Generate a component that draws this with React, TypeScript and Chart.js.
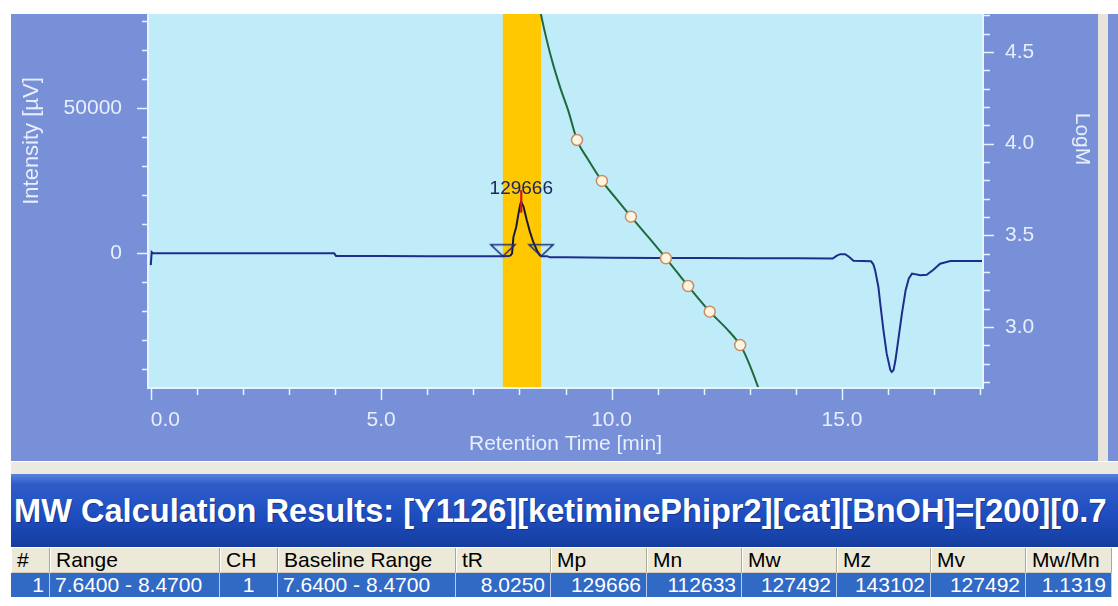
import React, { useEffect, useRef } from "react";
import { Chart, registerables } from "chart.js";

Chart.register(...registerables);

const FONT = "'Liberation Sans', Arial, sans-serif";

// Detector trace: retention time [min] and intensity [µV]
const retentionTime = [
  0.0, 0.02, 0.05, 1.0, 2.0, 3.0, 3.98, 4.02, 5.0, 6.0, 7.0, 7.64, 7.8, 7.84, 7.87, 7.93, 7.98,
  8.02, 8.04, 8.09, 8.16, 8.23, 8.3, 8.38, 8.44, 8.47, 8.6, 8.66, 9.0, 10.0, 11.0, 12.0, 13.0,
  14.0, 14.8, 14.88, 14.96, 15.07, 15.15, 15.25, 15.63, 15.68, 15.72, 15.79, 15.83, 15.9, 15.97,
  16.05, 16.08, 16.12, 16.16, 16.23, 16.3, 16.38, 16.45, 16.52, 16.7, 16.84, 16.99, 17.13, 17.35,
  18.06,
];
const intensity = [
  -4100, 400, 0, 0, 0, 0, 0, -900, -950, -1000, -1000, -1000, -900, 0, 5600, 9100, 13700,
  17100, 17700, 16000, 11400, 7300, 3900, 1000, -600, -1000, -1000, -1400, -1400, -1500, -1600,
  -1650, -1700, -1750, -1800, -900, -300, -300, -1200, -2600, -2700, -3800, -5900, -11600,
  -17300, -26600, -34600, -40300, -40900, -40200, -36900, -28900, -20800, -12800, -8700, -7000,
  -7600, -7400, -5600, -3600, -2650, -2650,
];

// Integration window and baseline points of the peak
const integrationWindow = [7.64, 8.47];
const baselineMarkTime = [7.64, 8.47];
const baselineMarkSignal = [-1000, -1000];

// Peak top
const peakTopTime = [8.04];
const peakTopSignal = [17700];
const peakTopMarker = [14000, 21800];
const peakMp = [129666];

// Calibration curve (LogM vs retention time)
const calibTime = [
  8.465, 8.56, 8.7, 8.88, 9.06, 9.25, 9.5, 9.79, 10.1, 10.42, 10.8, 11.18, 11.66, 12.13, 12.5,
  12.79, 12.9, 13.05, 13.19,
];
const calibLogM = [
  4.707, 4.6, 4.46, 4.31, 4.18, 4.02, 3.91, 3.797, 3.7, 3.602, 3.49, 3.375, 3.224, 3.084, 2.99,
  2.902, 2.85, 2.76, 2.666,
];

// Calibration standards
const standardTime = [9.25, 9.79, 10.42, 11.18, 11.66, 12.13, 12.79];
const standardLogM = [4.02, 3.797, 3.602, 3.375, 3.224, 3.084, 2.902];

// Axes
const timeTicks = [0, 1, 2, 3, 4, 5, 6, 7, 8, 9, 10, 11, 12, 13, 14, 15, 16, 17, 18];
const timeLabelValues = [0, 5, 10, 15];
const timeLabels = ["0.0", "5.0", "10.0", "15.0"];
const intensityTicks = [-40000, -30000, -20000, -10000, 0, 10000, 20000, 30000, 40000, 50000, 60000, 70000, 80000];
const intensityLabelValues = [0, 50000];
const intensityLabels = ["0", "50000"];
const logMTicks = [2.7, 2.8, 2.9, 3.0, 3.1, 3.2, 3.3, 3.4, 3.5, 3.6, 3.7, 3.8, 3.9, 4.0, 4.1, 4.2, 4.3, 4.4, 4.5, 4.6, 4.7];
const logMLabelValues = [3.0, 3.5, 4.0, 4.5];
const logMLabels = ["3.0", "3.5", "4.0", "4.5"];

// Results table
const tableHeaders = ["#", "Range", "CH", "Baseline Range", "tR", "Mp", "Mn", "Mw", "Mz", "Mv", "Mw/Mn"];
const tableRow = ["1", "7.6400 - 8.4700", "1", "7.6400 - 8.4700", "8.0250", "129666", "112633", "127492", "143102", "127492", "1.1319"];

const resultsTitle = "MW Calculation Results: [Y1126][ketiminePhipr2][cat][BnOH]=[200][0.7";

const PANEL = "#7890D8";
const PLOT_BG = "#C0ECFA";
const AXIS = "#E6F4FF";
const LABEL = "#E8EEFC";

const pick = (values: number[], labels: string[], v: number) => {
  const i = values.findIndex((w) => Math.abs(w - v) < 1e-6);
  return i >= 0 ? labels[i] : "";
};

const zip = (xs: number[], ys: number[]) => xs.map((x, i) => ({ x, y: ys[i] }));

function makeTriangle(): HTMLCanvasElement {
  const c = document.createElement("canvas");
  c.width = 28;
  c.height = 28;
  const g = c.getContext("2d")!;
  g.strokeStyle = "#1B2C78";
  g.lineWidth = 1.6;
  g.beginPath();
  g.moveTo(2, 2.5);
  g.lineTo(26, 2.5);
  g.lineTo(14, 14);
  g.closePath();
  g.stroke();
  return c;
}

const decorPlugin = {
  id: "decor",
  beforeDatasetsDraw(chart: any) {
    const { ctx, chartArea: a, scales } = chart;
    ctx.save();
    ctx.fillStyle = PLOT_BG;
    ctx.fillRect(a.left, a.top, a.right - a.left, a.bottom - a.top);
    const x0 = scales.x.getPixelForValue(integrationWindow[0]);
    const x1 = scales.x.getPixelForValue(integrationWindow[1]);
    ctx.fillStyle = "#FFC800";
    ctx.fillRect(x0, a.top, x1 - x0, a.bottom - a.top);
    ctx.restore();
  },
  afterDatasetsDraw(chart: any) {
    const { ctx, scales } = chart;
    ctx.save();
    ctx.fillStyle = "#1A2860";
    ctx.font = `19px ${FONT}`;
    ctx.textAlign = "center";
    ctx.textBaseline = "alphabetic";
    const px = scales.x.getPixelForValue(peakTopTime[0]);
    const py = scales.y.getPixelForValue(peakTopSignal[0]);
    ctx.fillText(String(peakMp[0]), px, py - 8);
    ctx.restore();
  },
  afterDraw(chart: any) {
    const { ctx, chartArea: a, scales } = chart;
    const { x, y, y2 } = scales;
    ctx.save();
    ctx.strokeStyle = AXIS;
    ctx.lineWidth = 1.5;
    ctx.beginPath();
    timeTicks.forEach((v) => {
      const p = Math.round(x.getPixelForValue(v)) + 0.5;
      const len = v % 5 === 0 ? 12 : 7;
      ctx.moveTo(p, a.bottom);
      ctx.lineTo(p, a.bottom + len);
    });
    intensityTicks.forEach((v) => {
      const p = Math.round(y.getPixelForValue(v)) + 0.5;
      const len = v % 50000 === 0 ? 11 : 6;
      ctx.moveTo(a.left - len, p);
      ctx.lineTo(a.left, p);
    });
    logMTicks.forEach((v) => {
      const p = Math.round(y2.getPixelForValue(v)) + 0.5;
      const major = Math.abs(v * 2 - Math.round(v * 2)) < 1e-6;
      ctx.moveTo(a.right, p);
      ctx.lineTo(a.right + (major ? 11 : 7), p);
    });
    ctx.stroke();

    // axis frame
    ctx.lineWidth = 2;
    ctx.beginPath();
    ctx.moveTo(a.left, a.top);
    ctx.lineTo(a.left, a.bottom);
    ctx.lineTo(a.right, a.bottom);
    ctx.lineTo(a.right, a.top);
    ctx.stroke();

    // axis titles
    ctx.fillStyle = LABEL;
    ctx.font = `21px ${FONT}`;
    ctx.textAlign = "center";
    ctx.textBaseline = "alphabetic";
    ctx.fillText("Retention Time [min]", (a.left + a.right) / 2, a.bottom + 62);

    ctx.save();
    ctx.font = `22px ${FONT}`;
    ctx.translate(21, 127);
    ctx.rotate(-Math.PI / 2);
    ctx.textBaseline = "middle";
    ctx.fillText("Intensity [µV]", 0, 0);
    ctx.restore();

    ctx.save();
    ctx.translate(a.right + 99, 125);
    ctx.rotate(Math.PI / 2);
    ctx.textBaseline = "middle";
    ctx.fillText("LogM", 0, 0);
    ctx.restore();

    ctx.restore();
  },
};

const PANEL_W = 1087;
const PANEL_H = 447;

function GpcChart() {
  const ref = useRef<HTMLCanvasElement | null>(null);

  useEffect(() => {
    if (!ref.current) return;
    const triangle = makeTriangle();
    const tickFont = { family: FONT, size: 21 };

    const chart = new Chart(ref.current, {
      type: "line",
      data: {
        datasets: [
          {
            label: "baseline points",
            data: zip(baselineMarkTime, baselineMarkSignal),
            yAxisID: "y",
            showLine: false,
            pointStyle: triangle as any,
            pointRadius: 5,
            order: 0,
          },
          {
            label: "peak top",
            data: zip([peakTopTime[0], peakTopTime[0]], peakTopMarker),
            yAxisID: "y",
            borderColor: "#D01818",
            borderWidth: 2.2,
            pointRadius: 0,
            order: 1,
          },
          {
            label: "standards",
            data: zip(standardTime, standardLogM),
            yAxisID: "y2",
            showLine: false,
            pointRadius: 5.5,
            pointBackgroundColor: "#FFF4DE",
            pointBorderColor: "#C88C66",
            pointBorderWidth: 1.5,
            order: 2,
          },
          {
            label: "calibration",
            data: zip(calibTime, calibLogM),
            yAxisID: "y2",
            borderColor: "#1E6A3A",
            borderWidth: 2,
            pointRadius: 0,
            cubicInterpolationMode: "monotone",
            order: 3,
          },
          {
            label: "signal",
            data: zip(retentionTime, intensity),
            yAxisID: "y",
            borderColor: "#1C2E8A",
            borderWidth: 2,
            pointRadius: 0,
            tension: 0,
            segment: {
              borderColor: (c: any) =>
                c.p0.parsed.x >= 7.8 && c.p0.parsed.x < integrationWindow[1] ? "#1A1A3A" : "#1C2E8A",
            },
            order: 4,
          },
        ] as any,
      },
      options: {
        animation: false,
        responsive: false,
        devicePixelRatio: 1,
        parsing: false as any,
        normalized: true,
        layout: { padding: 0, autoPadding: false },
        plugins: { legend: { display: false }, tooltip: { enabled: false } },
        scales: {
          x: {
            type: "linear",
            min: -0.06,
            max: 18.06,
            afterBuildTicks: (s: any) => {
              s.ticks = timeTicks.map((v) => ({ value: v }));
            },
            afterFit: (s: any) => {
              s.height = 73;
              s.paddingLeft = 0;
              s.paddingRight = 0;
            },
            grid: { display: false, drawTicks: false },
            border: { display: false },
            ticks: {
              autoSkip: false,
              maxRotation: 0,
              minRotation: 0,
              align: "inner",
              padding: 20,
              color: LABEL,
              font: tickFont,
              callback: (v: any) => pick(timeLabelValues, timeLabels, Number(v)),
            },
          },
          y: {
            type: "linear",
            position: "left",
            min: -46450,
            max: 82520,
            afterBuildTicks: (s: any) => {
              s.ticks = intensityTicks.map((v) => ({ value: v }));
            },
            afterFit: (s: any) => {
              s.width = 137;
              s.paddingTop = 0;
              s.paddingBottom = 0;
            },
            grid: { display: false, drawTicks: false },
            border: { display: false },
            ticks: {
              autoSkip: false,
              padding: 26,
              color: LABEL,
              font: tickFont,
              callback: (v: any) => pick(intensityLabelValues, intensityLabels, Number(v)),
            },
          },
          y2: {
            type: "linear",
            position: "right",
            min: 2.668,
            max: 4.707,
            afterBuildTicks: (s: any) => {
              s.ticks = logMTicks.map((v) => ({ value: v }));
            },
            afterFit: (s: any) => {
              s.width = 115;
              s.paddingTop = 0;
              s.paddingBottom = 0;
            },
            grid: { display: false, drawTicks: false },
            border: { display: false },
            ticks: {
              autoSkip: false,
              padding: 22,
              color: LABEL,
              font: tickFont,
              callback: (v: any) => pick(logMLabelValues, logMLabels, Number(v)),
            },
          },
        },
      } as any,
      plugins: [decorPlugin],
    });
    return () => chart.destroy();
  }, []);

  return (
    <canvas
      ref={ref}
      width={PANEL_W}
      height={PANEL_H}
      style={{ display: "block", width: PANEL_W, height: PANEL_H }}
    />
  );
}

const colEdges = [11, 50, 220, 278, 456, 551, 647, 742, 837, 931, 1026, 1112];
const colAlign: ("left" | "right" | "center")[] = [
  "right", "left", "center", "left", "right", "right", "right", "right", "right", "right", "right",
];

export default function App() {
  return (
    <div
      style={{
        position: "absolute",
        left: 0,
        top: 0,
        width: 1118,
        height: 606,
        background: "#FFFFFF",
        overflow: "hidden",
        fontFamily: FONT,
      }}
    >
      <div style={{ position: "absolute", left: 11, top: 14, width: PANEL_W, height: PANEL_H, background: PANEL }}>
        <GpcChart />
      </div>
      <div style={{ position: "absolute", left: 1098, top: 14, width: 10, height: PANEL_H, background: "#E6E4DA" }} />
      <div style={{ position: "absolute", left: 1108, top: 14, width: 10, height: PANEL_H, background: PANEL }} />
      <div style={{ position: "absolute", left: 11, top: 461, width: 1107, height: 13, background: "#ECEAE0", borderTop: "1px solid #FFFFFF", boxSizing: "border-box" }} />
      <div
        style={{
          position: "absolute",
          left: 11,
          top: 474,
          width: 1107,
          height: 73,
          background: "linear-gradient(to bottom, #5A82DE 0%, #2E5DC9 14%, #1F4EC0 55%, #143D9E 100%)",
          color: "#FFFFFF",
          fontWeight: "bold",
          fontSize: 32.6,
          lineHeight: "73px",
          whiteSpace: "nowrap",
          overflow: "hidden",
          paddingLeft: 3,
          boxSizing: "border-box",
          textShadow: "1px 1px 0 rgba(0,0,40,0.35)",
        }}
      >
        {resultsTitle}
      </div>
      {tableHeaders.map((h, i) => (
        <div
          key={"h" + i}
          style={{
            position: "absolute",
            left: colEdges[i],
            top: 548,
            width: colEdges[i + 1] - colEdges[i],
            height: 25,
            background: "#ECE9D8",
            borderRight: "1px solid #ACA899",
            borderLeft: "1px solid #FFFFFF",
            borderBottom: "1px solid #D0CDBE",
            boxSizing: "border-box",
            padding: "0 5px",
            fontSize: 21,
            lineHeight: "24px",
            color: "#000000",
            whiteSpace: "nowrap",
            overflow: "hidden",
          }}
        >
          {h}
        </div>
      ))}
      {tableRow.map((c, i) => (
        <div
          key={"d" + i}
          style={{
            position: "absolute",
            left: colEdges[i],
            top: 573,
            width: colEdges[i + 1] - colEdges[i],
            height: 24,
            background: "#316AC5",
            borderRight: "1px solid #B8CCEE",
            boxSizing: "border-box",
            padding: "0 5px",
            fontSize: 21,
            lineHeight: "24px",
            color: "#FFFFFF",
            textAlign: colAlign[i],
            whiteSpace: "nowrap",
            overflow: "hidden",
          }}
        >
          {c}
        </div>
      ))}
    </div>
  );
}
